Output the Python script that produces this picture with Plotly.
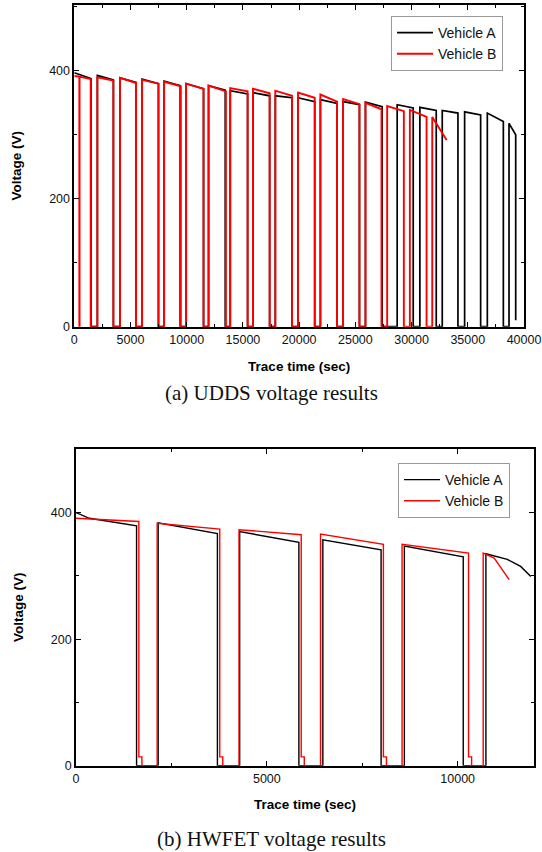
import plotly.graph_objects as go

# ---------------- (a) UDDS data ----------------
# drive segments: start / end time (s), voltage at start / end (V)
A_udds_start = [0, 2052, 4071, 6031, 7991, 9951, 11941, 13871, 15891, 17880,
                19900, 21889, 23909, 25899, 28720, 30739, 32729, 34718, 36738, 38667]
A_udds_end = [1488, 3477, 5497, 7486, 9417, 11495, 13426, 15415, 17375, 19365,
              21384, 23374, 25364, 27384, 30145, 32194, 34124, 36143, 38163, 39262]
A_udds_vstart = [397, 393, 389, 387, 384, 380, 377, 369, 366, 361,
                 358, 355, 352, 351, 347, 343, 338, 336, 334, 318]
A_udds_vend = [388, 386, 382, 380, 377, 372, 370, 364, 361, 358,
               352, 349, 347, 344, 342, 338, 334, 331, 321, 300]
A_udds_final_v = 10

B_udds_start = [0, 470, 2052, 4071, 6031, 7991, 9951, 11941, 13871, 15891, 17880,
                19900, 21889, 23909, 25899, 27829, 29848, 31838]
B_udds_end = [448, 1458, 3477, 5497, 7486, 9476, 11495, 13485, 15415, 17375, 19365,
              21384, 23374, 25364, 27324, 29313, 31333, 33115]
B_udds_vstart = [392, 391, 390, 389, 386, 383, 380, 377, 373, 372, 369,
                 366, 363, 356, 350, 345, 339, 328]
B_udds_vend = [391, 387, 385, 381, 380, 376, 372, 368, 368, 365, 361,
               358, 352, 348, 340, 337, 328, 292]

# ---------------- (b) HWFET data ----------------
# each drive segment given as knots (time list, voltage list)
A_hw_t = [[0, 350, 1587], [2153, 3705], [4288, 5840], [6468, 7994], [8603, 10146],
          [10740, 11300, 11650, 11917]]
A_hw_v = [[400, 391, 379], [384, 367], [370, 353], [357, 341], [347, 330],
          [335, 326, 315, 299]]

B_hw_t = [[0, 1647], [2127, 3766], [4271, 5901], [6407, 8054], [8543, 10285],
          [10669, 10957, 11349]]
B_hw_v = [[391, 386], [383, 374], [373, 365], [366, 350], [350, 336],
          [336, 328, 294]]
B_hw_tail_v = 14
B_hw_tail_dt = 80

udds_xticks = [0, 5000, 10000, 15000, 20000, 25000, 30000, 35000, 40000]
hw_xticks = [0, 5000, 10000]
yticks = [0, 200, 400]


def build_simple(starts, ends, vs, ve, final_v=None):
    x, y = [], []
    n = len(starts)
    for i in range(n):
        if starts[i] != 0:
            x += [starts[i]]
            y += [0]
        x += [starts[i], ends[i]]
        y += [vs[i], ve[i]]
        if i < n - 1:
            x += [ends[i]]
            y += [0]
        elif final_v is not None:
            x += [ends[i]]
            y += [final_v]
    return x, y


def build_knots(ts, vs, tail_v=None, tail_dt=None):
    x, y = [], []
    n = len(ts)
    for i in range(n):
        if ts[i][0] != 0:
            x += [ts[i][0]]
            y += [0]
        x += list(ts[i])
        y += list(vs[i])
        if i < n - 1:
            e = ts[i][-1]
            if tail_v is not None:
                x += [e, e + tail_dt, e + tail_dt]
                y += [tail_v, tail_v, 0]
            else:
                x += [e]
                y += [0]
    return x, y


BLACK = "#000000"
RED = "#ff0000"
FONT = "Liberation Sans, Arial, sans-serif"

fig = go.Figure()

xa, ya = build_simple(A_udds_start, A_udds_end, A_udds_vstart, A_udds_vend, A_udds_final_v)
xb, yb = build_simple(B_udds_start, B_udds_end, B_udds_vstart, B_udds_vend)
fig.add_trace(go.Scatter(x=xa, y=ya, mode="lines", name="Vehicle A",
                         line=dict(color=BLACK, width=1.7), xaxis="x", yaxis="y",
                         legend="legend"))
fig.add_trace(go.Scatter(x=xb, y=yb, mode="lines", name="Vehicle B",
                         line=dict(color=RED, width=1.9), xaxis="x", yaxis="y",
                         legend="legend"))

xa2, ya2 = build_knots(A_hw_t, A_hw_v)
xb2, yb2 = build_knots(B_hw_t, B_hw_v, B_hw_tail_v, B_hw_tail_dt)
fig.add_trace(go.Scatter(x=xa2, y=ya2, mode="lines", name="Vehicle A",
                         line=dict(color=BLACK, width=1.4), xaxis="x2", yaxis="y2",
                         legend="legend2"))
fig.add_trace(go.Scatter(x=xb2, y=yb2, mode="lines", name="Vehicle B",
                         line=dict(color=RED, width=1.4), xaxis="x2", yaxis="y2",
                         legend="legend2"))

W, H = 542, 852


def px_x(p):
    return p / W


def px_y(p):
    return 1 - p / H


axis_common = dict(showgrid=False, zeroline=False, showline=True, linecolor=BLACK,
                   linewidth=1.6, mirror="allticks", ticks="inside", ticklen=5,
                   tickwidth=1.3, tickcolor=BLACK, automargin=False,
                   tickfont=dict(family=FONT, size=12.5, color="#111"))
title_font = dict(family=FONT, size=13.5, color="#000", weight="bold")

fig.update_layout(
    width=W, height=H,
    margin=dict(l=0, r=0, t=0, b=0),
    paper_bgcolor="white", plot_bgcolor="white",
    showlegend=True,
    xaxis=dict(axis_common, domain=[px_x(74.3), px_x(524)], range=[0, 40000],
               tickvals=udds_xticks, ticktext=[str(v) for v in udds_xticks],
               minor=dict(dtick=2500, tick0=0, ticks="inside", ticklen=3,
                          tickwidth=1.2, tickcolor=BLACK),
               anchor="y",
               title=dict(text="Trace time (sec)", font=title_font, standoff=16)),
    yaxis=dict(axis_common, domain=[px_y(326.7), px_y(5)], range=[0, 503],
               tickvals=yticks, ticktext=[str(v) for v in yticks],
               minor=dict(dtick=100, tick0=0, ticks="inside", ticklen=3,
                          tickwidth=1.2, tickcolor=BLACK),
               anchor="x",
               title=dict(text="Voltage (V)", font=title_font, standoff=24)),
    xaxis2=dict(axis_common, domain=[px_x(76), px_x(534)], range=[0, 12000],
                tickvals=hw_xticks, ticktext=[str(v) for v in hw_xticks],
                minor=dict(dtick=2500, tick0=0, ticks="inside", ticklen=3,
                           tickwidth=1.2, tickcolor=BLACK),
                anchor="y2",
                title=dict(text="Trace time (sec)", font=title_font, standoff=15)),
    yaxis2=dict(axis_common, domain=[px_y(765.7), px_y(449)], range=[0, 500.5],
                tickvals=yticks, ticktext=[str(v) for v in yticks],
                minor=dict(dtick=100, tick0=0, ticks="inside", ticklen=3,
                           tickwidth=1.2, tickcolor=BLACK),
                anchor="x2",
                title=dict(text="Voltage (V)", font=title_font, standoff=24)),
    legend=dict(x=px_x(391), y=px_y(16), xanchor="left", yanchor="top",
                bgcolor="white", bordercolor="#999", borderwidth=1,
                font=dict(family=FONT, size=14, color="#111"),
                tracegroupgap=0, itemwidth=36),
    legend2=dict(x=px_x(398), y=px_y(463), xanchor="left", yanchor="top",
                 bgcolor="white", bordercolor="#999", borderwidth=1,
                 font=dict(family=FONT, size=14, color="#111"),
                 tracegroupgap=0, itemwidth=36),
    annotations=[
        dict(text="(a) UDDS voltage results", x=0.5, y=px_y(393), xref="paper",
             yref="paper", showarrow=False, xanchor="center", yanchor="middle",
             font=dict(family="Liberation Serif, Times New Roman, serif", size=21,
                       color="#111")),
        dict(text="(b) HWFET voltage results", x=0.5, y=px_y(839), xref="paper",
             yref="paper", showarrow=False, xanchor="center", yanchor="middle",
             font=dict(family="Liberation Serif, Times New Roman, serif", size=21,
                       color="#111")),
    ],
)

fig.write_html(
    "out.html",
    config={"displayModeBar": False},
    post_script="document.body.style.margin='0px';document.body.style.padding='0px';"
                "document.documentElement.style.overflow='hidden';",
)
